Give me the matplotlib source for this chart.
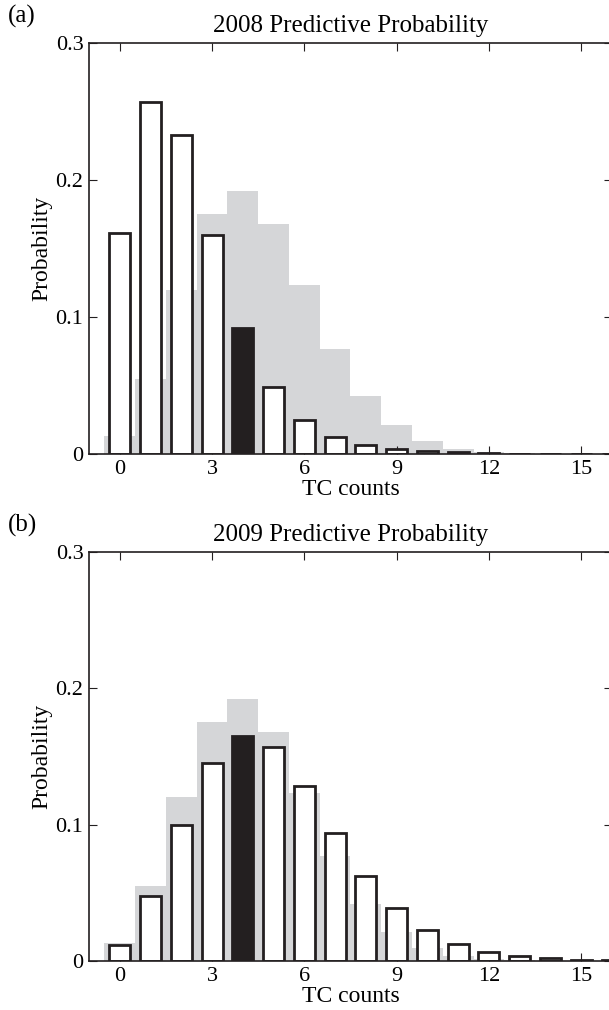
import matplotlib
matplotlib.use("Agg")
import matplotlib.pyplot as plt
import numpy as np

plt.rcParams['font.family'] = ['Liberation Serif', 'DejaVu Serif']

counts = list(range(0, 17))
clim = [0.013, 0.055, 0.120, 0.175, 0.192, 0.168, 0.123, 0.077, 0.042, 0.021,
        0.0095, 0.0036, 0.0012, 0.0004, 0.0002, 0.0001, 0.00005]
pred_2008 = [0.161, 0.257, 0.233, 0.160, 0.092, 0.0487, 0.0248, 0.0127, 0.0066,
             0.0036, 0.0020, 0.0011, 0.0006, 0.0003, 0.0002, 0.0001, 0.00005]
pred_2009 = [0.012, 0.048, 0.100, 0.145, 0.165, 0.157, 0.128, 0.094, 0.0626,
             0.0387, 0.0226, 0.0124, 0.0066, 0.0036, 0.0019, 0.0010, 0.0005]
observed = {"2008": 4, "2009": 4}
titles = ["2008 Predictive Probability", "2009 Predictive Probability"]
panel_labels = ["(a)", "(b)"]
xticks = [0, 3, 6, 9, 12, 15]
yticks = [0, 0.1, 0.2, 0.3]
ytick_labels = ["0", "0.1", "0.2", "0.3"]

W, H = 609, 1010
fig = plt.figure(figsize=(W / 100, H / 100), dpi=100)

gray = "#d5d6d8"
dark = "#231f20"

left_px, right_px = 89, 612
panels = [(43, 454), (552, 961)]

for i, (top_px, bot_px) in enumerate(panels):
    ax = fig.add_axes([left_px / W, 1 - bot_px / H,
                       (right_px - left_px) / W, (bot_px - top_px) / H])
    year = titles[i][:4]
    pred = pred_2008 if i == 0 else pred_2009
    ax.bar(counts, clim, width=1.0, color=gray, linewidth=0, zorder=1)
    fcs = [dark if c == observed[year] else "white" for c in counts]
    ax.bar(counts, pred, width=0.68, color=fcs, edgecolor=dark,
           linewidth=2.0, zorder=2)
    ax.set_xlim(-1, 16)
    ax.set_ylim(0, 0.3)
    ax.set_xticks(xticks)
    ax.set_xticklabels([str(t) for t in xticks])
    ax.set_yticks(yticks)
    ax.set_yticklabels(ytick_labels)
    ax.tick_params(direction="in", top=True, right=True, length=6,
                   width=0.8, labelsize=16, pad=4, color=dark)
    for s in ax.spines.values():
        s.set_linewidth(1.2)
        s.set_color(dark)
    ax.set_xlabel("TC counts", fontsize=17, labelpad=0)
    ax.set_ylabel("Probability", fontsize=17, labelpad=2)
    ax.set_title(titles[i], fontsize=18, pad=8)
    fig.text(8 / W, 1 - (top_px - 27) / H, panel_labels[i], fontsize=18,
             va="center", ha="left")

fig.savefig("out.png", dpi=100)
